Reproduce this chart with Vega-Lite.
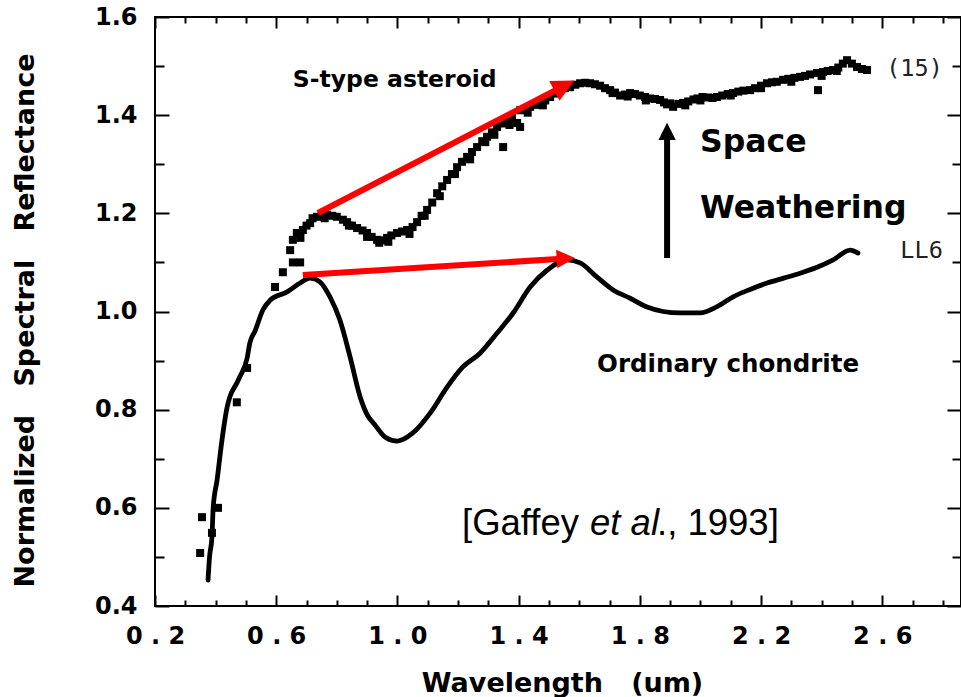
{
  "$schema": "https://vega.github.io/schema/vega-lite/v6.json",
  "width": 806,
  "height": 589,
  "autosize": {"type": "none"},
  "padding": {"left": 155, "top": 17, "right": 0, "bottom": 91},
  "background": "white",
  "config": {
    "view": {"stroke": "black", "strokeWidth": 2},
    "axis": {"grid": false, "domain": false, "tickColor": "black", "tickWidth": 2, "labelColor": "black", "titleColor": "black", "labelFlush": false, "labelOverlap": false, "labelBound": false}
  },
  "datasets": {
    "ll6": [
      {"x": 0.375, "y": 0.453}, {"x": 0.38, "y": 0.5}, {"x": 0.388, "y": 0.541}, {"x": 0.392, "y": 0.6},
      {"x": 0.405, "y": 0.657}, {"x": 0.421, "y": 0.738}, {"x": 0.438, "y": 0.805}, {"x": 0.447, "y": 0.826},
      {"x": 0.47, "y": 0.854}, {"x": 0.48, "y": 0.867}, {"x": 0.504, "y": 0.905}, {"x": 0.513, "y": 0.936},
      {"x": 0.53, "y": 0.96}, {"x": 0.556, "y": 1.003}, {"x": 0.58, "y": 1.023}, {"x": 0.636, "y": 1.04},
      {"x": 0.679, "y": 1.058}, {"x": 0.712, "y": 1.068}, {"x": 0.745, "y": 1.06}, {"x": 0.778, "y": 1.029},
      {"x": 0.81, "y": 0.983}, {"x": 0.844, "y": 0.907}, {"x": 0.877, "y": 0.826}, {"x": 0.9, "y": 0.79},
      {"x": 0.926, "y": 0.769}, {"x": 0.96, "y": 0.744}, {"x": 1.0, "y": 0.736}, {"x": 1.05, "y": 0.752},
      {"x": 1.108, "y": 0.793}, {"x": 1.164, "y": 0.846}, {"x": 1.216, "y": 0.887}, {"x": 1.273, "y": 0.915},
      {"x": 1.329, "y": 0.956}, {"x": 1.382, "y": 0.997}, {"x": 1.438, "y": 1.05}, {"x": 1.494, "y": 1.084},
      {"x": 1.56, "y": 1.105}, {"x": 1.603, "y": 1.099}, {"x": 1.659, "y": 1.07}, {"x": 1.712, "y": 1.044},
      {"x": 1.768, "y": 1.027}, {"x": 1.824, "y": 1.009}, {"x": 1.877, "y": 1.0}, {"x": 1.933, "y": 0.997},
      {"x": 1.999, "y": 0.997}, {"x": 2.055, "y": 1.01}, {"x": 2.108, "y": 1.03}, {"x": 2.164, "y": 1.045},
      {"x": 2.22, "y": 1.058}, {"x": 2.275, "y": 1.068}, {"x": 2.329, "y": 1.078}, {"x": 2.385, "y": 1.09},
      {"x": 2.438, "y": 1.105}, {"x": 2.494, "y": 1.125}, {"x": 2.52, "y": 1.119}
    ],
    "stype": [
      {"x": 0.349, "y": 0.508}, {"x": 0.355, "y": 0.581}, {"x": 0.388, "y": 0.549}, {"x": 0.408, "y": 0.6},
      {"x": 0.47, "y": 0.815}, {"x": 0.504, "y": 0.885},
      {"x": 0.596, "y": 1.05}, {"x": 0.622, "y": 1.08}, {"x": 0.646, "y": 1.125}, {"x": 0.655, "y": 1.1},
      {"x": 0.679, "y": 1.1}, {"x": 0.655, "y": 1.146}, {"x": 0.668, "y": 1.16}, {"x": 0.68, "y": 1.15},
      {"x": 0.688, "y": 1.166}, {"x": 0.7, "y": 1.175}, {"x": 0.712, "y": 1.18}, {"x": 0.72, "y": 1.19},
      {"x": 0.735, "y": 1.193}, {"x": 0.75, "y": 1.197}, {"x": 0.76, "y": 1.19}, {"x": 0.768, "y": 1.197}, {"x": 0.785, "y": 1.195},
      {"x": 0.8, "y": 1.193}, {"x": 0.82, "y": 1.187}, {"x": 0.834, "y": 1.182}, {"x": 0.84, "y": 1.175}, {"x": 0.85, "y": 1.175},
      {"x": 0.867, "y": 1.17}, {"x": 0.885, "y": 1.165}, {"x": 0.9, "y": 1.16}, {"x": 0.9, "y": 1.152}, {"x": 0.915, "y": 1.152},
      {"x": 0.933, "y": 1.146}, {"x": 0.94, "y": 1.14}, {"x": 0.95, "y": 1.145}, {"x": 0.966, "y": 1.15}, {"x": 0.97, "y": 1.142}, {"x": 0.98, "y": 1.155},
      {"x": 0.999, "y": 1.16}, {"x": 1.015, "y": 1.163}, {"x": 1.032, "y": 1.166}, {"x": 1.04, "y": 1.158}, {"x": 1.05, "y": 1.172},
      {"x": 1.065, "y": 1.182}, {"x": 1.08, "y": 1.195}, {"x": 1.09, "y": 1.195}, {"x": 1.098, "y": 1.207}, {"x": 1.115, "y": 1.222},
      {"x": 1.131, "y": 1.241}, {"x": 1.14, "y": 1.235}, {"x": 1.148, "y": 1.255}, {"x": 1.164, "y": 1.268}, {"x": 1.18, "y": 1.28},
      {"x": 1.19, "y": 1.28}, {"x": 1.197, "y": 1.294}, {"x": 1.213, "y": 1.305}, {"x": 1.23, "y": 1.315}, {"x": 1.24, "y": 1.31}, {"x": 1.246, "y": 1.325},
      {"x": 1.263, "y": 1.335}, {"x": 1.28, "y": 1.347}, {"x": 1.29, "y": 1.345}, {"x": 1.296, "y": 1.356}, {"x": 1.312, "y": 1.365},
      {"x": 1.32, "y": 1.36}, {"x": 1.329, "y": 1.376}, {"x": 1.349, "y": 1.335}, {"x": 1.345, "y": 1.383}, {"x": 1.362, "y": 1.39},
      {"x": 1.37, "y": 1.38}, {"x": 1.378, "y": 1.395}, {"x": 1.395, "y": 1.384}, {"x": 1.405, "y": 1.41}, {"x": 1.405, "y": 1.376},
      {"x": 1.42, "y": 1.413}, {"x": 1.43, "y": 1.405}, {"x": 1.438, "y": 1.417}, {"x": 1.455, "y": 1.421}, {"x": 1.471, "y": 1.425},
      {"x": 1.48, "y": 1.42}, {"x": 1.488, "y": 1.43}, {"x": 1.504, "y": 1.437}, {"x": 1.52, "y": 1.444}, {"x": 1.537, "y": 1.451},
      {"x": 1.553, "y": 1.455}, {"x": 1.57, "y": 1.457}, {"x": 1.587, "y": 1.462}, {"x": 1.603, "y": 1.465},
      {"x": 1.62, "y": 1.466}, {"x": 1.636, "y": 1.465}, {"x": 1.652, "y": 1.463}, {"x": 1.669, "y": 1.46},
      {"x": 1.685, "y": 1.455}, {"x": 1.702, "y": 1.451}, {"x": 1.71, "y": 1.445}, {"x": 1.718, "y": 1.446}, {"x": 1.735, "y": 1.44},
      {"x": 1.751, "y": 1.442}, {"x": 1.76, "y": 1.438}, {"x": 1.768, "y": 1.445}, {"x": 1.784, "y": 1.443}, {"x": 1.8, "y": 1.44},
      {"x": 1.817, "y": 1.437}, {"x": 1.82, "y": 1.43}, {"x": 1.834, "y": 1.434}, {"x": 1.85, "y": 1.433}, {"x": 1.867, "y": 1.431},
      {"x": 1.88, "y": 1.426}, {"x": 1.89, "y": 1.422}, {"x": 1.9, "y": 1.424}, {"x": 1.91, "y": 1.417},
      {"x": 1.927, "y": 1.423}, {"x": 1.943, "y": 1.425}, {"x": 1.95, "y": 1.42}, {"x": 1.96, "y": 1.428}, {"x": 1.977, "y": 1.432},
      {"x": 1.99, "y": 1.434}, {"x": 2.0, "y": 1.43}, {"x": 2.007, "y": 1.437}, {"x": 2.025, "y": 1.436}, {"x": 2.04, "y": 1.435},
      {"x": 2.055, "y": 1.437}, {"x": 2.072, "y": 1.44}, {"x": 2.09, "y": 1.443}, {"x": 2.1, "y": 1.44}, {"x": 2.108, "y": 1.445},
      {"x": 2.125, "y": 1.448}, {"x": 2.142, "y": 1.45}, {"x": 2.164, "y": 1.451}, {"x": 2.18, "y": 1.455},
      {"x": 2.2, "y": 1.46}, {"x": 2.2, "y": 1.455}, {"x": 2.22, "y": 1.465}, {"x": 2.236, "y": 1.467}, {"x": 2.252, "y": 1.468},
      {"x": 2.273, "y": 1.472}, {"x": 2.29, "y": 1.474}, {"x": 2.3, "y": 1.468}, {"x": 2.31, "y": 1.476}, {"x": 2.329, "y": 1.478},
      {"x": 2.345, "y": 1.48}, {"x": 2.362, "y": 1.483}, {"x": 2.385, "y": 1.486}, {"x": 2.388, "y": 1.451},
      {"x": 2.4, "y": 1.48}, {"x": 2.405, "y": 1.488}, {"x": 2.42, "y": 1.49}, {"x": 2.438, "y": 1.492}, {"x": 2.45, "y": 1.49}, {"x": 2.455, "y": 1.497},
      {"x": 2.47, "y": 1.505}, {"x": 2.484, "y": 1.512}, {"x": 2.5, "y": 1.505}, {"x": 2.517, "y": 1.498},
      {"x": 2.533, "y": 1.494}, {"x": 2.55, "y": 1.492}
    ],
    "arrows": [
      {"arrow": "S-type", "x": 0.738, "y": 1.2006, "x2": 1.551, "y2": 1.46},
      {"arrow": "LL6", "x": 0.688, "y": 1.0743, "x2": 1.556, "y2": 1.108},
      {"arrow": "weathering", "x": 1.89, "y": 1.109, "x2": 1.89, "y2": 1.367}
    ],
    "texts": [
      {"t": "S-type asteroid", "x": 0.655, "y": 1.457, "g": "stype"},
      {"t": "Ordinary chondrite", "x": 1.659, "y": 0.877, "g": "oc"},
      {"t": "Space", "x": 1.999, "y": 1.325, "g": "big"},
      {"t": "Weathering", "x": 1.999, "y": 1.19, "g": "big"},
      {"t": "[Gaffey", "x": 1.2132, "y": 0.5446, "g": "cite"},
      {"t": "et al", "x": 1.6356, "y": 0.5446, "g": "citeItalic"},
      {"t": "., 1993]", "x": 1.8568, "y": 0.5446, "g": "cite"},
      {"t": "(15)", "x": 2.8, "y": 1.48, "g": "tag"},
      {"t": "LL6", "x": 2.8, "y": 1.109, "g": "tag"}
    ]
  },
  "layer": [
    {
      "data": {"name": "ll6"},
      "mark": {"type": "line", "color": "black", "strokeWidth": 4.8, "strokeJoin": "round", "strokeCap": "round", "interpolate": "monotone"},
      "encoding": {
        "x": {"field": "x", "type": "quantitative", "scale": {"domain": [0.2, 2.86], "nice": false, "zero": false},
          "axis": {"orient": "bottom", "values": [0.2, 0.6, 1.0, 1.4, 1.8, 2.2, 2.6], "ticks": false, "tickSize": 0,
            "labelExpr": "replace(format(datum.value, '.1f'), '.', ' . ')",
            "labelFont": "DejaVu Sans", "labelFontWeight": "bold", "labelFontSize": 24, "labelPadding": 18,
            "title": "Wavelength\u00a0\u00a0\u00a0(um)", "titleFont": "DejaVu Sans", "titleFontWeight": "bold", "titleFontSize": 27,
            "titleX": 407, "titleY": 85, "titleBaseline": "alphabetic", "titleAlign": "center"}},
        "y": {"field": "y", "type": "quantitative", "scale": {"domain": [0.4, 1.6], "nice": false, "zero": false},
          "axis": {"orient": "left", "values": [0.4, 0.6, 0.8, 1.0, 1.2, 1.4, 1.6], "ticks": false, "tickSize": 0, "format": ".1f",
            "labelFont": "DejaVu Sans", "labelFontWeight": "bold", "labelFontSize": 24, "labelPadding": 18,
            "title": "Normalized\u00a0\u00a0\u00a0Spectral\u00a0\u00a0\u00a0Reflectance", "titleFont": "DejaVu Sans", "titleFontWeight": "bold", "titleFontSize": 27,
            "titleX": -122, "titleY": 303, "titleAngle": 270, "titleBaseline": "alphabetic", "titleAlign": "center"}}
      }
    },
    {
      "data": {"name": "stype"},
      "mark": {"type": "square", "size": 64, "color": "black", "opacity": 1},
      "encoding": {
        "x": {"field": "x", "type": "quantitative", "scale": {"domain": [0.2, 2.86], "nice": false, "zero": false},
          "axis": {"orient": "bottom", "values": [0.2, 0.6, 1.0, 1.4, 1.8, 2.2, 2.6], "offset": -11, "tickSize": 11, "labels": false, "title": null}},
        "y": {"field": "y", "type": "quantitative", "scale": {"domain": [0.4, 1.6], "nice": false, "zero": false},
          "axis": {"orient": "left", "values": [0.4, 0.6, 0.8, 1.0, 1.2, 1.4, 1.6], "offset": -14, "tickSize": 14, "labels": false, "title": null}}
      }
    },
    {
      "data": {"name": "arrows"},
      "transform": [{"filter": "datum.arrow != 'weathering'"}],
      "mark": {"type": "rule", "color": "#ff0000", "strokeWidth": 6},
      "encoding": {
        "x": {"field": "x", "type": "quantitative", "scale": {"domain": [0.2, 2.86], "nice": false, "zero": false},
          "axis": {"orient": "bottom", "values": [0.3, 0.4, 0.5, 0.7, 0.8, 0.9, 1.1, 1.2, 1.3, 1.5, 1.6, 1.7, 1.9, 2.0, 2.1, 2.3, 2.4, 2.5, 2.7, 2.8], "offset": -6, "tickSize": 6, "labels": false, "title": null}},
        "y": {"field": "y", "type": "quantitative", "scale": {"domain": [0.4, 1.6], "nice": false, "zero": false},
          "axis": {"orient": "left", "values": [0.5, 0.7, 0.9, 1.1, 1.3, 1.5], "offset": -9, "tickSize": 9, "labels": false, "title": null}},
        "x2": {"field": "x2"},
        "y2": {"field": "y2"}
      }
    },
    {
      "data": {"name": "arrows"},
      "transform": [{"filter": "datum.arrow == 'weathering'"}],
      "mark": {"type": "rule", "color": "black", "strokeWidth": 6},
      "encoding": {
        "x": {"field": "x", "type": "quantitative", "scale": {"domain": [0.2, 2.86], "nice": false, "zero": false},
          "axis": {"orient": "top", "values": [0.2, 0.6, 1.0, 1.4, 1.8, 2.2, 2.6], "offset": -11, "tickSize": 11, "labels": false, "title": null}},
        "y": {"field": "y", "type": "quantitative", "scale": {"domain": [0.4, 1.6], "nice": false, "zero": false},
          "axis": {"orient": "right", "values": [0.4, 0.6, 0.8, 1.0, 1.2, 1.4, 1.6], "offset": -14, "tickSize": 14, "labels": false, "title": null}},
        "x2": {"field": "x2"},
        "y2": {"field": "y2"}
      }
    },
    {
      "data": {"name": "arrows"},
      "transform": [{"filter": "datum.arrow == 'S-type'"}],
      "mark": {"type": "point", "shape": "M-1,-1L1,0L-1,1Z", "filled": true, "color": "#ff0000", "opacity": 1, "size": 500, "angle": 332.6},
      "encoding": {
        "x": {"field": "x2", "type": "quantitative", "scale": {"domain": [0.2, 2.86], "nice": false, "zero": false},
          "axis": {"orient": "top", "values": [0.3, 0.4, 0.5, 0.7, 0.8, 0.9, 1.1, 1.2, 1.3, 1.5, 1.6, 1.7, 1.9, 2.0, 2.1, 2.3, 2.4, 2.5, 2.7, 2.8], "offset": -6, "tickSize": 6, "labels": false, "title": null}},
        "y": {"field": "y2", "type": "quantitative", "scale": {"domain": [0.4, 1.6], "nice": false, "zero": false},
          "axis": {"orient": "right", "values": [0.5, 0.7, 0.9, 1.1, 1.3, 1.5], "offset": -9, "tickSize": 9, "labels": false, "title": null}}
      }
    },
    {
      "data": {"name": "arrows"},
      "transform": [{"filter": "datum.arrow == 'LL6'"}],
      "mark": {"type": "point", "shape": "M-1,-1L1,0L-1,1Z", "filled": true, "color": "#ff0000", "opacity": 1, "size": 340, "angle": 356.4},
      "encoding": {
        "x": {"field": "x2", "type": "quantitative", "scale": {"domain": [0.2, 2.86], "nice": false, "zero": false}, "axis": null},
        "y": {"field": "y2", "type": "quantitative", "scale": {"domain": [0.4, 1.6], "nice": false, "zero": false}, "axis": null}
      }
    },
    {
      "data": {"name": "arrows"},
      "transform": [{"filter": "datum.arrow == 'weathering'"}],
      "mark": {"type": "point", "shape": "M-1,-1L1,0L-1,1Z", "filled": true, "color": "black", "opacity": 1, "size": 300, "angle": 270},
      "encoding": {
        "x": {"field": "x2", "type": "quantitative", "scale": {"domain": [0.2, 2.86], "nice": false, "zero": false}, "axis": null},
        "y": {"field": "y2", "type": "quantitative", "scale": {"domain": [0.4, 1.6], "nice": false, "zero": false}, "axis": null}
      }
    },
    {
      "data": {"name": "texts"},
      "transform": [{"filter": "datum.g == 'stype'"}],
      "mark": {"type": "text", "align": "left", "baseline": "alphabetic", "font": "DejaVu Sans", "fontWeight": "bold", "fontSize": 23.5, "color": "black"},
      "encoding": {
        "x": {"field": "x", "type": "quantitative", "scale": {"domain": [0.2, 2.86], "nice": false, "zero": false}, "axis": null},
        "y": {"field": "y", "type": "quantitative", "scale": {"domain": [0.4, 1.6], "nice": false, "zero": false}, "axis": null},
        "text": {"field": "t"}
      }
    },
    {
      "data": {"name": "texts"},
      "transform": [{"filter": "datum.g == 'oc'"}],
      "mark": {"type": "text", "align": "left", "baseline": "alphabetic", "font": "DejaVu Sans", "fontWeight": "bold", "fontSize": 24.5, "color": "black"},
      "encoding": {
        "x": {"field": "x", "type": "quantitative", "scale": {"domain": [0.2, 2.86], "nice": false, "zero": false}, "axis": null},
        "y": {"field": "y", "type": "quantitative", "scale": {"domain": [0.4, 1.6], "nice": false, "zero": false}, "axis": null},
        "text": {"field": "t"}
      }
    },
    {
      "data": {"name": "texts"},
      "transform": [{"filter": "datum.g == 'big'"}],
      "mark": {"type": "text", "align": "left", "baseline": "alphabetic", "font": "DejaVu Sans", "fontWeight": "bold", "fontSize": 31.5, "color": "black"},
      "encoding": {
        "x": {"field": "x", "type": "quantitative", "scale": {"domain": [0.2, 2.86], "nice": false, "zero": false}, "axis": null},
        "y": {"field": "y", "type": "quantitative", "scale": {"domain": [0.4, 1.6], "nice": false, "zero": false}, "axis": null},
        "text": {"field": "t"}
      }
    },
    {
      "data": {"name": "texts"},
      "transform": [{"filter": "datum.g == 'cite'"}],
      "mark": {"type": "text", "align": "left", "baseline": "alphabetic", "font": "Liberation Sans", "fontSize": 36.5, "color": "black"},
      "encoding": {
        "x": {"field": "x", "type": "quantitative", "scale": {"domain": [0.2, 2.86], "nice": false, "zero": false}, "axis": null},
        "y": {"field": "y", "type": "quantitative", "scale": {"domain": [0.4, 1.6], "nice": false, "zero": false}, "axis": null},
        "text": {"field": "t"}
      }
    },
    {
      "data": {"name": "texts"},
      "transform": [{"filter": "datum.g == 'citeItalic'"}],
      "mark": {"type": "text", "align": "left", "baseline": "alphabetic", "font": "Liberation Sans", "fontStyle": "italic", "fontSize": 36.5, "color": "black"},
      "encoding": {
        "x": {"field": "x", "type": "quantitative", "scale": {"domain": [0.2, 2.86], "nice": false, "zero": false}, "axis": null},
        "y": {"field": "y", "type": "quantitative", "scale": {"domain": [0.4, 1.6], "nice": false, "zero": false}, "axis": null},
        "text": {"field": "t"}
      }
    },
    {
      "data": {"name": "texts"},
      "transform": [{"filter": "datum.g == 'tag'"}],
      "mark": {"type": "text", "align": "right", "baseline": "alphabetic", "font": "DejaVu Sans Mono", "fontSize": 23.5, "color": "#222222"},
      "encoding": {
        "x": {"field": "x", "type": "quantitative", "scale": {"domain": [0.2, 2.86], "nice": false, "zero": false}, "axis": null},
        "y": {"field": "y", "type": "quantitative", "scale": {"domain": [0.4, 1.6], "nice": false, "zero": false}, "axis": null},
        "text": {"field": "t"}
      }
    }
  ],
  "resolve": {"axis": {"x": "independent", "y": "independent"}}
}
